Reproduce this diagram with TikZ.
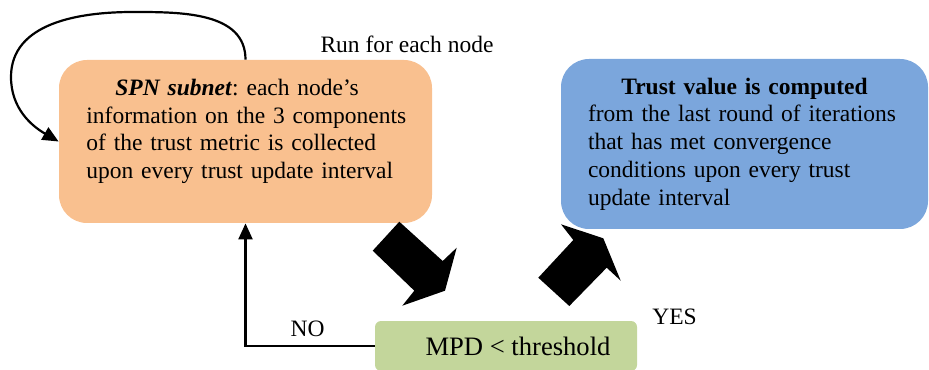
\documentclass[tikz,border=0pt]{standalone}
\usepackage{fontspec}
\setmainfont{Liberation Serif}
\usetikzlibrary{arrows.meta}
\definecolor{spnorange}{HTML}{F9C08F}
\definecolor{trustblue}{HTML}{7BA6DC}
\definecolor{checkgreen}{HTML}{C3D69B}
\frenchspacing
\tikzset{>={Triangle[length=8pt,width=7pt]}}
\tikzset{block/.style = {shape=rectangle,rounded corners=14pt,inner sep=0pt},
         flow/.style = {->,line width=1.1pt},
         fatarrow/.style = {fill=black},
         txt/.style = {font=\fontsize{11.75}{13.85}\selectfont}}

\begin{document}
\begin{tikzpicture}[x=0.5pt,y=0.5pt]
                \useasboundingbox (0,0) rectangle (929,369);
                \node[block,fill=spnorange,minimum width=186.5pt,minimum height=81.5pt] (spn) at (245.5,227.5) {};
                \node[txt,anchor=west,inner sep=0pt,text width=162pt,align=left] (spntext) at (86,237.5) {\hspace*{14.5pt}\textbf{\textit{SPN subnet}}: each node’s\\information on the 3 components\\of the trust metric is collected\\upon every trust update interval};
                \node[block,fill=trustblue,minimum width=183.5pt,minimum height=85pt,txt,text width=156.5pt,align=left] (trust) at (744.5,225) {\makebox[\linewidth][c]{\textbf{Trust value is computed}}\\from the last round of iterations\\that has met convergence\\conditions upon every trust\\update interval};
                \node[block,rounded corners=3pt,fill=checkgreen,minimum width=131pt,minimum height=25pt,font=\fontsize{13.3}{15}\selectfont] (check) at (506,23) {\hspace*{12pt}MPD < threshold};
                \node[txt,anchor=base] (runlabel) at (407,316) {Run for each node};
                \node[txt,anchor=base] (nolabel) at (307.5,33) {NO};
                \node[txt,anchor=base] (yeslabel) at (674.5,45) {YES};
                \coordinate (looptop) at (133,357);
                \coordinate (loopleft) at (11,292);
                \draw[flow] (spn.north) to[out=90,in=0] (looptop) to[out=180,in=90] (loopleft) to[out=-90,in=150] (spn.west);
                \draw[flow] (check.west) -| (spn.south);
                \fill[fatarrow] (399.3,147.3) -- (372.7,118.3) -- (414.3,78.3) -- (402.3,63.3) -- (445,78.3) -- (456.7,121.3) -- (442.7,108) -- cycle;
                \fill[fatarrow] (569.3,63) -- (538.3,91.3) -- (573.3,129) -- (561,144.7) -- (603.3,130.7) -- (620.7,88.3) -- (606.7,101.3) -- cycle;
            \end{tikzpicture}
\end{document}
